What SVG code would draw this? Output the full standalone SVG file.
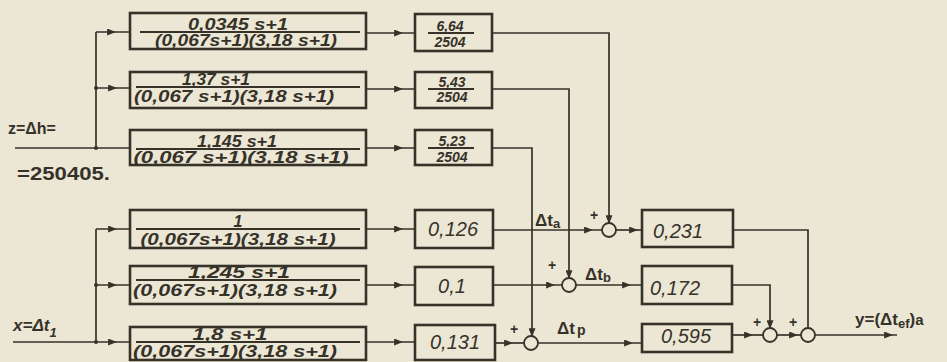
<svg xmlns="http://www.w3.org/2000/svg" width="947" height="362" viewBox="0 0 947 362">
<defs>
<marker id="ah" viewBox="0 0 10 8" refX="9" refY="4" markerWidth="10" markerHeight="7" markerUnits="userSpaceOnUse" orient="auto"><path d="M0,0 L10,4 L0,8 z" fill="#36322a"/></marker>
</defs>
<style>
.bx{fill:none;stroke:#36322a;stroke-width:2.6}
.ln{fill:none;stroke:#36322a;stroke-width:1.7}
.am{marker-mid:url(#ah)}
.ae{marker-end:url(#ah)}
.fr{stroke:#36322a;stroke-width:1.8}
.t{font-family:"Liberation Sans",Arial,sans-serif;font-style:italic;font-weight:bold;fill:#36322a}
.n{font-size:16px;text-anchor:middle}
.g{font-size:14px;text-anchor:middle}
.k{font-size:20px;text-anchor:middle;font-weight:normal}
.u{font-family:"Liberation Sans",Arial,sans-serif;font-weight:bold;fill:#36322a}
.p{font-family:"Liberation Sans",Arial,sans-serif;font-size:14px;font-weight:bold;fill:#36322a}
.sm{fill:#ece7d4;stroke:#36322a;stroke-width:1.8}
.dot{fill:#36322a}
</style>
<rect width="947" height="362" fill="#ece7d4"/>

<g id="connectors">
<path class="ln" d="M15,148 H130"/>
<path class="ln" d="M96,148 V32"/>
<path class="ln am" d="M96,32 H115 H130"/>
<path class="ln am" d="M96,88 H116 H130"/>
<path class="ln am" d="M13,342 H116 H130"/>
<path class="ln" d="M96,342 V229"/>
<path class="ln am" d="M96,229 H116 H130"/>
<path class="ln am" d="M96,285 H116 H130"/>
<circle class="dot" cx="96" cy="88" r="2"/>
<circle class="dot" cx="96" cy="148" r="2"/>
<circle class="dot" cx="96" cy="285" r="2"/>
<circle class="dot" cx="96" cy="342" r="2"/>
<path class="ln am" d="M366,33 H402 H415"/>
<path class="ln am" d="M366,89 H402 H415"/>
<path class="ln am" d="M366,148 H402 H415"/>
<path class="ln am" d="M366,229 H402 H415"/>
<path class="ln am" d="M366,285 H402 H415"/>
<path class="ln am" d="M366,342 H402 H415"/>
<path class="ln ae" d="M492,33 H609 V223"/>
<path class="ln ae" d="M492,89 H569 V278"/>
<path class="ln ae" d="M492,148 H532 V336"/>
<path class="ln am" d="M493,230 H592 H602"/>
<path class="ln am" d="M493,285 H554 H562"/>
<path class="ln am" d="M495,343 H512 H524"/>
<path class="ln am" d="M616,230 H637 H642"/>
<path class="ln am" d="M576,285 H630 H642"/>
<path class="ln am" d="M538,343 H632 H642"/>
<path class="ln" d="M733,230 H808 V328"/>
<path class="ln ae" d="M732,285 H770 V328"/>
<path class="ln am" d="M732,335 H752 H763"/>
<path class="ln am" d="M777,335 H797 H801"/>
<path class="ln am" d="M815,335 H892 H897"/>
</g>

<g id="tf1"><rect class="bx" x="130" y="13" width="236" height="36"/><line class="fr" x1="140" y1="32" x2="360" y2="32"/>
<text class="t n" x="238" y="30" textLength="100" lengthAdjust="spacingAndGlyphs">0,0345 s+1</text>
<text class="t n" x="246" y="46" textLength="182" lengthAdjust="spacingAndGlyphs">(0,067s+1)(3,18 s+1)</text></g>
<g id="tf2"><rect class="bx" x="130" y="72" width="236" height="36"/><line class="fr" x1="136" y1="87" x2="360" y2="87"/>
<text class="t n" x="216" y="85" textLength="68" lengthAdjust="spacingAndGlyphs">1,37 s+1</text>
<text class="t n" x="234" y="102" textLength="200" lengthAdjust="spacingAndGlyphs">(0,067 s+1)(3,18 s+1)</text></g>
<g id="tf3"><rect class="bx" x="130" y="130" width="236" height="35"/><line class="fr" x1="136" y1="149" x2="360" y2="149"/>
<text class="t n" x="237" y="147" textLength="80" lengthAdjust="spacingAndGlyphs">1,145 s+1</text>
<text class="t n" x="241" y="163" textLength="215" lengthAdjust="spacingAndGlyphs">(0,067 s+1)(3,18 s+1)</text></g>
<g id="tf4"><rect class="bx" x="130" y="210" width="236" height="38"/><line class="fr" x1="136" y1="229" x2="360" y2="229"/>
<text class="t n" x="238" y="227">1</text>
<text class="t n" x="238" y="245" textLength="195" lengthAdjust="spacingAndGlyphs">(0,067s+1)(3,18 s+1)</text></g>
<g id="tf5"><rect class="bx" x="130" y="266" width="236" height="38"/><line class="fr" x1="136" y1="280" x2="360" y2="280"/>
<text class="t n" x="239" y="278" textLength="102" lengthAdjust="spacingAndGlyphs">1,245 s+1</text>
<text class="t n" x="235" y="296" textLength="204" lengthAdjust="spacingAndGlyphs">(0,067s+1)(3,18 s+1)</text></g>
<g id="tf6"><rect class="bx" x="130" y="327" width="236" height="33"/><line class="fr" x1="136" y1="342" x2="360" y2="342"/>
<text class="t n" x="230" y="340" textLength="75" lengthAdjust="spacingAndGlyphs">1,8 s+1</text>
<text class="t n" x="235" y="357" textLength="204" lengthAdjust="spacingAndGlyphs">(0,067s+1)(3,18 s+1)</text></g>

<g id="g1"><rect class="bx" x="415" y="14" width="77" height="37"/><line class="fr" x1="428" y1="33" x2="474" y2="33"/>
<text class="t g" x="450" y="31">6,64</text><text class="t g" x="450" y="47">2504</text></g>
<g id="g2"><rect class="bx" x="415" y="72" width="77" height="36"/><line class="fr" x1="428" y1="89" x2="474" y2="89"/>
<text class="t g" x="452" y="87">5,43</text><text class="t g" x="452" y="102">2504</text></g>
<g id="g3"><rect class="bx" x="415" y="130" width="77" height="35"/><line class="fr" x1="428" y1="148" x2="474" y2="148"/>
<text class="t g" x="452" y="146">5,23</text><text class="t g" x="452" y="162">2504</text></g>
<g id="g4"><rect class="bx" x="415" y="210" width="78" height="38"/><text class="t k" x="453" y="236">0,126</text></g>
<g id="g5"><rect class="bx" x="415" y="267" width="78" height="38"/><text class="t k" x="452" y="293">0,1</text></g>
<g id="g6"><rect class="bx" x="415" y="325" width="80" height="35"/><text class="t k" x="455" y="349">0,131</text></g>
<g id="g7"><rect class="bx" x="642" y="210" width="91" height="37"/><text class="t k" x="678" y="238">0,231</text></g>
<g id="g8"><rect class="bx" x="642" y="266" width="90" height="38"/><text class="t k" x="675" y="295">0,172</text></g>
<g id="g9"><rect class="bx" x="642" y="324" width="90" height="28"/><text class="t k" x="686" y="343">0,595</text></g>

<g id="sa"><circle class="sm" cx="609" cy="230" r="7"/><text class="p" x="590" y="220">+</text></g>
<g id="sb"><circle class="sm" cx="569" cy="285" r="7"/><text class="p" x="548" y="270">+</text></g>
<g id="sp"><circle class="sm" cx="531" cy="343" r="7"/><text class="p" x="510" y="334">+</text></g>
<g id="s1"><circle class="sm" cx="770" cy="335" r="7"/><text class="p" x="753" y="327">+</text></g>
<g id="s2"><circle class="sm" cx="808" cy="335" r="7"/><text class="p" x="789" y="327">+</text></g>

<g id="labels">
<text class="u" x="8" y="134" font-size="16">z=Δh=</text>
<text class="u" x="17" y="180" font-size="19" font-weight="normal" textLength="93" lengthAdjust="spacingAndGlyphs">=250405.</text>
<text class="t" x="13" y="331" font-size="17" font-weight="normal">x=Δt<tspan dy="6" font-size="13">1</tspan></text>
<text class="u" x="535" y="226" font-size="17">Δt<tspan dy="2" font-size="13">a</tspan></text>
<text class="u" x="585" y="280" font-size="17">Δt<tspan dy="2" font-size="13">b</tspan></text>
<text class="u" x="557" y="334" font-size="17">Δt<tspan dx="2" dy="1" font-size="14">p</tspan></text>
<text class="u" x="855" y="325" font-size="17">y=(Δt<tspan dy="3" font-size="13">ef</tspan><tspan dy="-3">)</tspan><tspan font-size="15">a</tspan></text>
</g>
</svg>
